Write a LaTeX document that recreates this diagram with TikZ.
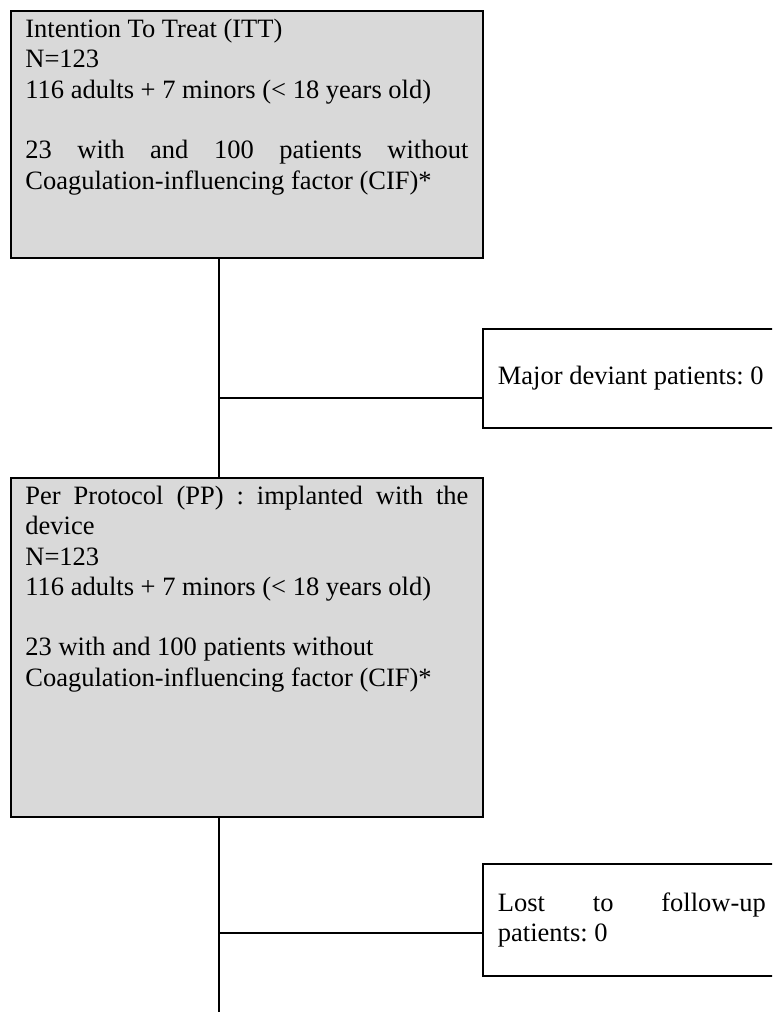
\documentclass[tikz,border=0pt]{standalone}
\usepackage{fontspec}
\setmainfont{Liberation Serif}
\usetikzlibrary{positioning}
\definecolor{boxgray}{HTML}{D9D9D9}

\begin{document}
\begin{tikzpicture}[
    font=\fontsize{26.5pt}{30.3pt}\selectfont\frenchspacing,
    stage/.style={rectangle, draw=black, fill=boxgray, line width=1.8pt,
      inner xsep=14.5pt, inner ysep=5.5pt, anchor=north west},
    side/.style={rectangle, draw=black, line width=1.8pt, inner xsep=15pt,
      inner ysep=0pt, anchor=north west},
    flow/.style={line width=1.8pt, black}]

  \path[use as bounding box, clip] (0,0) rectangle (772pt,-1016pt);

  % intention to treat population
  \node[stage] (itt) at (10pt,-10pt) {\parbox[c][236pt][t]{443pt}{%
    \strut Intention To Treat (ITT)\\
    N=123\\
    116 adults + 7 minors (< 18 years old)\\[30.3pt]
    \makebox[\linewidth][s]{23 with and 100 patients without}\\
    Coagulation-influencing factor (CIF)*}};

  % per protocol population
  \node[stage, below=218pt of itt.south west, anchor=north west] (pp)
    {\parbox[c][328pt][t]{443pt}{%
    \strut\makebox[\linewidth][s]{Per Protocol (PP) : implanted with the}\\
    device\\
    N=123\\
    116 adults + 7 minors (< 18 years old)\\[30.3pt]
    23 with and 100 patients without\\
    Coagulation-influencing factor (CIF)*}};

  % exclusions (cut by the right margin)
  \node[side, minimum height=99pt] (dev) at (482pt,-328pt)
    {\parbox{268pt}{\mbox{Major deviant patients: 0}}};
  \node[side, minimum height=112pt] (lost) at (482pt,-863pt)
    {\parbox{268pt}{\makebox[\linewidth][s]{Lost to follow-up}\\
    patients: 0}};

  % trunk and branches
  \coordinate (trunk) at ([xshift=209pt]itt.south west);
  \coordinate (devin) at ([yshift=31pt]dev.south west);
  \coordinate (lostin) at ([yshift=44pt]lost.south west);
  \coordinate (floor) at (0,-1012pt);
  \draw[flow] (trunk) -- (trunk |- pp.north);
  \draw[flow] (trunk |- devin) -- (devin);
  \draw[flow] (trunk |- pp.south) -- (trunk |- floor);
  \draw[flow] (trunk |- lostin) -- (lostin);

\end{tikzpicture}
\end{document}
